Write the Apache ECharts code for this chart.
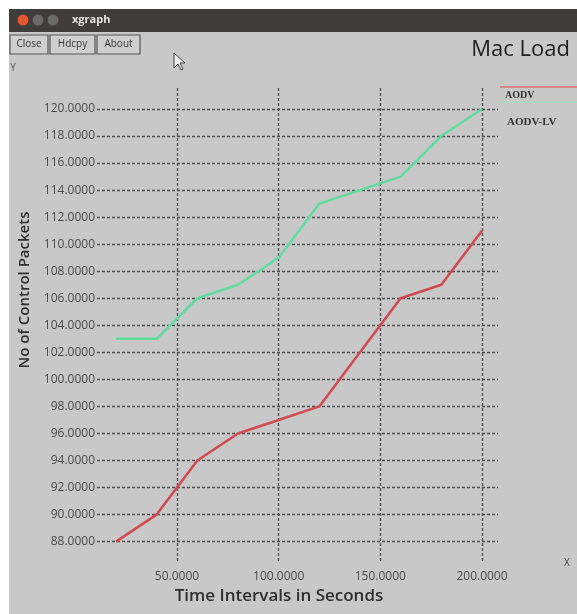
<!DOCTYPE html>
<html>
<head>
<meta charset="utf-8">
<script src="https://cdn.jsdelivr.net/npm/echarts@6/dist/echarts.min.js"></script>
<style>
html,body{margin:0;padding:0;background:#fff;}
#chart{width:577px;height:614px;}
</style>
</head>
<body>
<div id="chart"></div>
<script>
// ---- data ----
var times = [20, 40, 60, 80, 100, 120, 140, 160, 180, 200];
var aodv = [88, 90, 94, 96, 97, 98, 102, 106, 107, 111];
var aodvLv = [103, 103, 106, 107, 109, 113, 114, 115, 118, 120];
var xTicks = [50, 100, 150, 200];
var yTicks = [88, 90, 92, 94, 96, 98, 100, 102, 104, 106, 108, 110, 112, 114, 116, 118, 120];
var seriesNames = ['AODV', 'AODV-LV'];

function pairs(xs, ys) { return xs.map(function (x, i) { return [x, ys[i]]; }); }

var chart = echarts.init(document.getElementById('chart'), null, {renderer: 'canvas'});
var font = '"Open Sans", "DejaVu Sans", sans-serif';
var gridLine = {show: true, lineStyle: {color: '#4e4e4e', width: 1.3, type: [3, 2]}};

chart.setOption({
  animation: false,
  backgroundColor: '#ffffff',
  grid: {left: 97, right: 79, top: 88, bottom: 51, containLabel: false},
  xAxis: {
    type: 'value', min: 10.66, max: 207.87,
    axisLine: {show: false},
    axisTick: {show: false, customValues: xTicks},
    splitLine: gridLine,
    axisLabel: {customValues: xTicks, margin: 8, color: '#4a4a4a', fontSize: 12, fontFamily: font,
      formatter: function (v) { return v.toFixed(4); }}
  },
  yAxis: {
    type: 'value', min: 86.42, max: 121.55,
    axisLine: {show: false},
    axisTick: {show: false, customValues: yTicks},
    splitLine: gridLine,
    axisLabel: {customValues: yTicks, margin: 2, color: '#4a4a4a', fontSize: 12, fontFamily: font,
      formatter: function (v) { return v.toFixed(4); }}
  },
  series: [
    {name: seriesNames[0], type: 'line', data: pairs(times, aodv), symbol: 'none',
      lineStyle: {color: '#d14a4f', width: 2.5}, z: 3},
    {name: seriesNames[1], type: 'line', data: pairs(times, aodvLv), symbol: 'none',
      lineStyle: {color: '#62dc9c', width: 2.5}, z: 3}
  ],
  graphic: [
    // window background
    {type: 'rect', z: -10, silent: true, shape: {x: 9, y: 32, width: 568, height: 582}, style: {fill: '#c8c8c8'}},
    // title bar
    {type: 'rect', z: -9, shape: {x: 9, y: 9, width: 568, height: 23}, style: {fill: '#3e3d39'}},
    {type: 'circle', shape: {cx: 23, cy: 20, r: 5.5}, style: {fill: '#e4572e'}},
    {type: 'circle', shape: {cx: 38, cy: 20, r: 5.5}, style: {fill: '#6a6a66'}},
    {type: 'circle', shape: {cx: 53, cy: 20, r: 5.5}, style: {fill: '#6a6a66'}},
    {type: 'text', x: 72, y: 20, style: {text: 'xgraph', fill: '#e6e6e6', font: 'bold 11px ' + font, textVerticalAlign: 'middle'}},
    // buttons
    {type: 'rect', shape: {x: 10, y: 35, width: 38, height: 19}, style: {fill: '#cfcfcf', stroke: '#555', lineWidth: 1.2}},
    {type: 'text', x: 29, y: 44.5, style: {text: 'Close', fill: '#333', font: '10px ' + font, textAlign: 'center', textVerticalAlign: 'middle'}},
    {type: 'rect', shape: {x: 50, y: 35, width: 45, height: 19}, style: {fill: '#cfcfcf', stroke: '#555', lineWidth: 1.2}},
    {type: 'text', x: 72.5, y: 44.5, style: {text: 'Hdcpy', fill: '#333', font: '10px ' + font, textAlign: 'center', textVerticalAlign: 'middle'}},
    {type: 'rect', shape: {x: 97, y: 35, width: 43, height: 19}, style: {fill: '#cfcfcf', stroke: '#555', lineWidth: 1.2}},
    {type: 'text', x: 118.5, y: 44.5, style: {text: 'About', fill: '#333', font: '10px ' + font, textAlign: 'center', textVerticalAlign: 'middle'}},
    // mouse pointer
    {type: 'polygon', shape: {points: [[174, 53], [174, 68], [178, 64], [181, 70], [183, 69], [180, 63], [185, 63]]},
      style: {fill: '#eeeeee', stroke: '#444', lineWidth: 1}},
    // title
    {type: 'text', x: 570, y: 50, style: {text: 'Mac Load', fill: '#1e1e1e', font: '500 22px ' + font, textAlign: 'right', textVerticalAlign: 'middle'}},
    // axis letters
    {type: 'text', x: 13, y: 68, style: {text: 'Y', fill: '#555', font: '10px ' + font, textAlign: 'center', textVerticalAlign: 'middle'}},
    {type: 'text', x: 567, y: 563, style: {text: 'X', fill: '#444', font: '10px ' + font, textAlign: 'center', textVerticalAlign: 'middle'}},
    // axis names
    {type: 'text', x: 25, y: 290, rotation: Math.PI / 2,
      style: {text: 'No of Control Packets', fill: '#2e2e2e', font: '600 15px ' + font, textAlign: 'center', textVerticalAlign: 'middle'}},
    {type: 'text', x: 279, y: 596,
      style: {text: 'Time Intervals in Seconds', fill: '#2e2e2e', font: '600 17px ' + font, textAlign: 'center', textVerticalAlign: 'middle'}},
    // legend
    {type: 'line', shape: {x1: 500, y1: 87, x2: 577, y2: 87}, style: {stroke: '#e07070', lineWidth: 1.5}},
    {type: 'text', x: 505, y: 95, style: {text: seriesNames[0], fill: '#333', font: 'bold 10px "Liberation Serif", serif', textVerticalAlign: 'middle'}},
    {type: 'line', shape: {x1: 500, y1: 102, x2: 577, y2: 102}, style: {stroke: '#a6dcc0', lineWidth: 1.5}},
    {type: 'text', x: 507, y: 122, style: {text: seriesNames[1], fill: '#333', font: 'bold 11px "Liberation Serif", serif', textVerticalAlign: 'middle'}}
  ]
});
</script>
</body>
</html>
